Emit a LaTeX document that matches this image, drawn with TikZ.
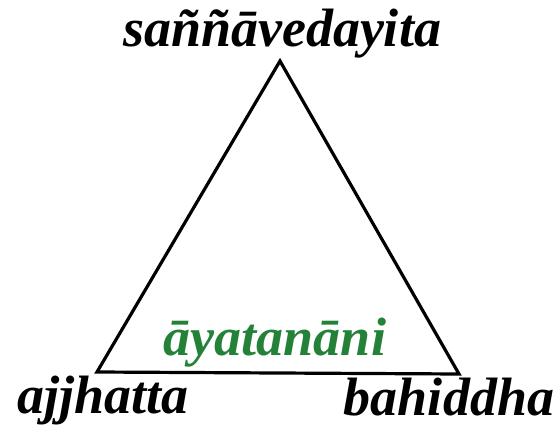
\documentclass[tikz,border=0pt]{standalone}
\usepackage{fontspec}
\setmainfont{Liberation Serif}
\definecolor{pgreen}{RGB}{35,130,55}
\begin{document}
\begin{tikzpicture}[x=1pt,y=-1pt,
  lbl/.style={font=\fontsize{54}{54}\selectfont\bfseries\itshape, inner sep=0pt, anchor=base},
  tri/.style={line width=3.2pt, line join=miter, black}]
\useasboundingbox (0,0) rectangle (557,428);
\coordinate (top) at (280,61);
\coordinate (bl) at (97,372);
\coordinate (br) at (459,374);
\draw[tri] (top) -- (bl) -- (br) -- cycle;
\node[lbl] (t) at (282,47) {saññāvedayita};
\node[lbl] (l) at (103,413) {ajjhatta};
\node[lbl] (r) at (449,415) {bahiddha};
\node[lbl, text=pgreen] (m) at (275,355) {āyatanāni};
\end{tikzpicture}
\end{document}
